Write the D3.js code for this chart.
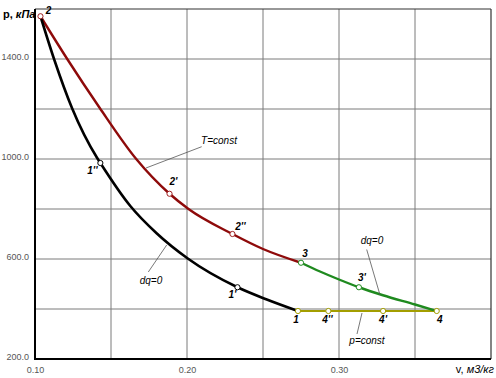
<!DOCTYPE html>
<html><head><meta charset="utf-8">
<script src="https://cdn.jsdelivr.net/npm/d3@7"></script>
<style>body{margin:0;background:#fff}svg{display:block}</style>
</head><body>
<svg id="c" width="496" height="378"></svg>
<script>
// Data (v in m3/kg, p in kPa)
const adiabat21 = [[0.1036,1571],[0.1128,1395],[0.1244,1203],[0.1408,1005],[0.143,984],[0.1627,812],[0.18,703],[0.2005,602],[0.2332,487],[0.2525,438],[0.273,392]];
const isotherm23 = [[0.1036,1571],[0.1212,1400],[0.1425,1205],[0.1666,1000],[0.1885,861],[0.201,800],[0.2299,700],[0.25,640],[0.275,585]];
const adiabat34 = [[0.275,585],[0.2875,550],[0.30,518],[0.3131,487],[0.3289,455],[0.35,418],[0.3643,392]];
const isobar14 = [[0.273,392],[0.3643,392]];
const pointsBlack = [["1''",0.143,984],["1'",0.2332,487]];
const pointsRed = [["2",0.1036,1571],["2'",0.1885,861],["2''",0.2299,700]];
const pointsGreen = [["3",0.275,585],["3'",0.3131,487]];
const pointsYellow = [["1",0.273,392],["4''",0.293,392],["4'",0.329,392],["4",0.3643,392]];
const xTicks = [0.10,0.20,0.30];
const xGrid = [0.15,0.20,0.25,0.30,0.35];
const yTicks = [200,600,1000,1400];
const yGrid = [400,600,800,1000,1200,1400];

const svg = d3.select("#c");
const x = d3.scaleLinear().domain([0.1,0.4]).range([35,491]);
const y = d3.scaleLinear().domain([200,1600]).range([359,9]);

// grid
const g = svg.append("g");
g.selectAll(".vg").data(xGrid).join("line")
  .attr("x1",d=>x(d)).attr("x2",d=>x(d)).attr("y1",y(200)).attr("y2",y(1600))
  .attr("stroke","#7a7a7a").attr("stroke-width",1);
g.selectAll(".hg").data(yGrid).join("line")
  .attr("x1",x(0.1)).attr("x2",x(0.4)).attr("y1",d=>y(d)).attr("y2",d=>y(d))
  .attr("stroke","#7a7a7a").attr("stroke-width",1);
// frame
svg.append("line").attr("x1",x(0.1)).attr("x2",x(0.4)).attr("y1",y(1600)).attr("y2",y(1600)).attr("stroke","#333").attr("stroke-width",1.2);
svg.append("line").attr("x1",x(0.4)).attr("x2",x(0.4)).attr("y1",y(1600)).attr("y2",y(200)).attr("stroke","#333").attr("stroke-width",1.2);
svg.append("line").attr("x1",x(0.1)).attr("x2",x(0.1)).attr("y1",y(1600)).attr("y2",y(200)+1).attr("stroke","#000").attr("stroke-width",2);
svg.append("line").attr("x1",x(0.1)-1).attr("x2",x(0.4)).attr("y1",y(200)).attr("y2",y(200)).attr("stroke","#000").attr("stroke-width",2);

// tick labels via axes
const xAxis = d3.axisBottom(x).tickValues(xTicks).tickSize(0).tickFormat(d3.format(".2f"));
svg.append("g").attr("transform",`translate(0,${y(200)+5})`).call(xAxis)
  .call(s=>s.select(".domain").remove())
  .selectAll("text").attr("font-family","Liberation Sans, Arial").attr("font-size",9).attr("fill","#555");
const yAxis = d3.axisLeft(y).tickValues(yTicks).tickSize(0).tickFormat(d3.format(".1f"));
svg.append("g").attr("transform",`translate(${x(0.1)-3},0)`).call(yAxis)
  .call(s=>s.select(".domain").remove())
  .selectAll("text").attr("font-family","Liberation Sans, Arial").attr("font-size",9).attr("fill","#555").attr("dy","0.1em");

// curves
const line = d3.line().x(d=>x(d[0])).y(d=>y(d[1])).curve(d3.curveMonotoneX);
svg.append("path").datum(isobar14).attr("d",line).attr("fill","none").attr("stroke","#a39e00").attr("stroke-width",2.2);
svg.append("path").datum(adiabat34).attr("d",line).attr("fill","none").attr("stroke","#1f8a1f").attr("stroke-width",2.4);
svg.append("path").datum(isotherm23).attr("d",line).attr("fill","none").attr("stroke","#8e0a0a").attr("stroke-width",2.4);
svg.append("path").datum(adiabat21).attr("d",line).attr("fill","none").attr("stroke","#000").attr("stroke-width",2.6);

// leader lines + annotations
const ann = [
  {t:"T=const", tx:219, ty:144, l:[[201.7,146.7],[146,168]]},
  {t:"dq=0", tx:151, ty:284, l:[[148.3,272],[166.7,245]]},
  {t:"dq=0", tx:372, ty:244, l:[[366.7,249.5],[380,295]]},
  {t:"p=const", tx:367, ty:344, l:[[357,334],[362,313]]}
];
ann.forEach(a=>{
  svg.append("line").attr("x1",a.l[0][0]).attr("y1",a.l[0][1]).attr("x2",a.l[1][0]).attr("y2",a.l[1][1])
    .attr("stroke","#555").attr("stroke-width",0.8);
  svg.append("text").attr("x",a.tx).attr("y",a.ty).attr("text-anchor","middle")
    .attr("font-family","Liberation Sans, Arial").attr("font-style","italic").attr("font-size",10).attr("fill","#000").text(a.t);
});

// markers
function markers(arr,col){
  svg.selectAll(null).data(arr).join("circle")
    .attr("cx",d=>x(d[1])).attr("cy",d=>y(d[2])).attr("r",2.6)
    .attr("fill","#fff").attr("stroke",col).attr("stroke-width",1);
}
markers(pointsBlack,"#000");
markers(pointsRed,"#a02020");
markers(pointsGreen,"#1f8a1f");
markers(pointsYellow,"#a39e00");

// point labels (offsets in px)
const labelOff = {"1''":[-8,11],"1'":[-5,11],"2":[8,-2],"2'":[4,-9],"2''":[8,-4],"3":[4,-6],"3'":[3,-6],"1":[-2,12],"4''":[-1,12],"4'":[0,12],"4":[3,12]};
const allPts = [...pointsBlack,...pointsRed,...pointsGreen,...pointsYellow];
svg.selectAll(null).data(allPts).join("text")
  .attr("x",d=>x(d[1])+labelOff[d[0]][0]).attr("y",d=>y(d[2])+labelOff[d[0]][1])
  .attr("text-anchor","middle")
  .attr("font-family","Liberation Sans, Arial").attr("font-style","italic").attr("font-weight","bold")
  .attr("font-size",10).attr("fill","#000").text(d=>d[0]);

// axis titles
const yt = svg.append("text").attr("x",3).attr("y",18).attr("font-family","Liberation Sans, Arial").attr("font-size",11).attr("font-weight","bold");
yt.append("tspan").text("p, ");
yt.append("tspan").attr("font-style","italic").text("кПа");
const xt = svg.append("text").attr("x",494).attr("y",373).attr("text-anchor","end").attr("font-family","Liberation Sans, Arial").attr("font-size",11);
xt.append("tspan").text("v, ");
xt.append("tspan").attr("font-style","italic").text("м3/кг");
</script>
</body></html>
